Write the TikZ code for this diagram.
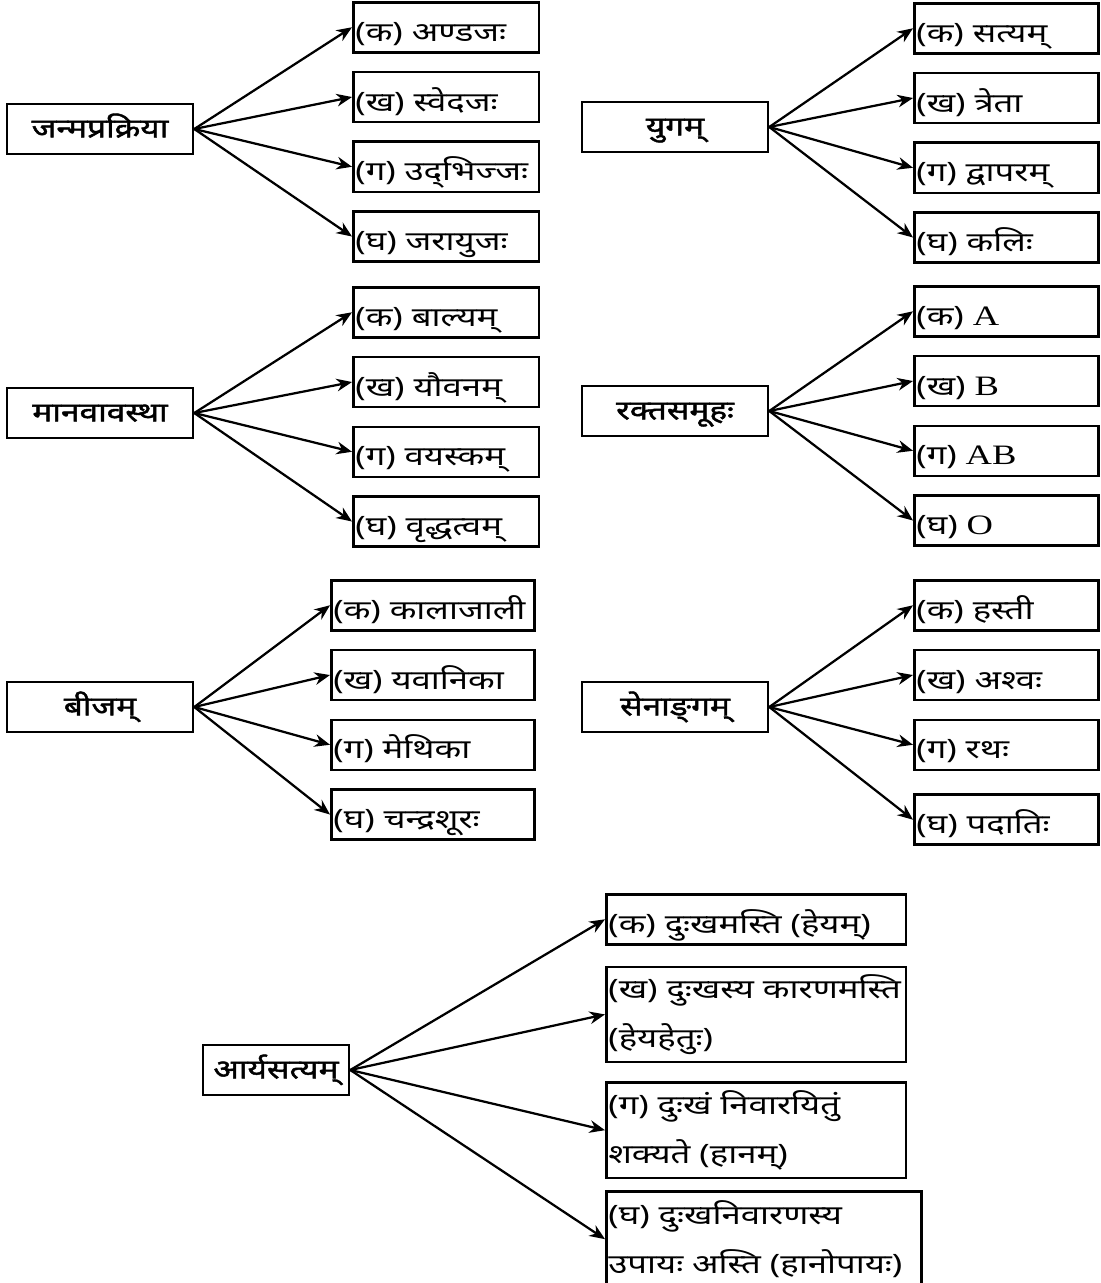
\documentclass[tikz,border=0pt]{standalone}
\usepackage{fontspec}
\setmainfont{Noto Sans}[Script=Devanagari, FakeStretch=1.3]
\newfontfamily\rootfont{Noto Sans}[Script=Devanagari, FakeStretch=1.25, FakeBold=1.6]
\newfontfamily\latn{Liberation Serif}[FakeStretch=1.3]
\usetikzlibrary{arrows.meta,positioning}

\begin{document}
\begin{tikzpicture}[
    x=0.025cm, y=-0.025cm,
    font=\fontsize{19}{23}\selectfont,
    root/.style={draw, line width=1.8pt, align=center, inner sep=1pt,
                 minimum width=4.65cm, minimum height=1.25cm,
                 text height=0.6cm, text depth=0.18cm,
                 font=\rootfont\fontsize{19}{23}\selectfont},
    leaf/.style={draw, line width=1.8pt, align=left, inner xsep=1.5pt,
                 text width=#1, minimum height=1.25cm,
                 text height=0.82cm, text depth=0.12cm},
    leaf/.default=4.54cm,
    tall/.style={leaf=#1, minimum height=2.38cm, text height={}, text depth={},
                 font=\fontsize{19}{35}\selectfont},
    arr/.style={-{Stealth[length=11pt, width=9pt]}, line width=1.6pt}
  ]
  \useasboundingbox (0,0) rectangle (1100,1283);

  % janma-prakriya
  \node[root] (janma) at (100,129) {जन्मप्रक्रिया};
  \node[leaf, anchor=north west] (janma1) at (352,1) {(क) अण्डजः};
  \node[leaf, below=0.43cm of janma1] (janma2) {(ख) स्वेदजः};
  \node[leaf, below=0.43cm of janma2] (janma3) {(ग) उद्‌भिज्जः};
  \node[leaf, below=0.43cm of janma3] (janma4) {(घ) जरायुजः};
  \draw[arr] (janma.east) -- (janma1.west);
  \draw[arr] (janma.east) -- (janma2.west);
  \draw[arr] (janma.east) -- (janma3.west);
  \draw[arr] (janma.east) -- (janma4.west);

  % yuga
  \node[root] (yuga) at (675,127) {युगम्};
  \node[leaf=4.5cm, anchor=north west] (yuga1) at (913,2) {(क) सत्यम्};
  \node[leaf=4.5cm, below=0.43cm of yuga1] (yuga2) {(ख) त्रेता};
  \node[leaf=4.5cm, below=0.43cm of yuga2] (yuga3) {(ग) द्वापरम्};
  \node[leaf=4.5cm, below=0.43cm of yuga3] (yuga4) {(घ) कलिः};
  \draw[arr] (yuga.east) -- (yuga1.west);
  \draw[arr] (yuga.east) -- (yuga2.west);
  \draw[arr] (yuga.east) -- (yuga3.west);
  \draw[arr] (yuga.east) -- (yuga4.west);

  % manava-avastha
  \node[root] (avastha) at (100,413) {मानवावस्था};
  \node[leaf, anchor=north west] (avastha1) at (352,286) {(क) बाल्यम्};
  \node[leaf, below=0.43cm of avastha1] (avastha2) {(ख) यौवनम्};
  \node[leaf, below=0.43cm of avastha2] (avastha3) {(ग) वयस्कम्};
  \node[leaf, below=0.43cm of avastha3] (avastha4) {(घ) वृद्धत्वम्};
  \draw[arr] (avastha.east) -- (avastha1.west);
  \draw[arr] (avastha.east) -- (avastha2.west);
  \draw[arr] (avastha.east) -- (avastha3.west);
  \draw[arr] (avastha.east) -- (avastha4.west);

  % rakta-samuha
  \node[root] (rakta) at (675,411) {रक्तसमूहः};
  \node[leaf=4.5cm, anchor=north west] (rakta1) at (913,285) {(क) {\latn\fontsize{20}{23}\selectfont A}};
  \node[leaf=4.5cm, below=0.43cm of rakta1] (rakta2) {(ख) {\latn\fontsize{20}{23}\selectfont B}};
  \node[leaf=4.5cm, below=0.43cm of rakta2] (rakta3) {(ग) {\latn\fontsize{20}{23}\selectfont AB}};
  \node[leaf=4.5cm, below=0.43cm of rakta3] (rakta4) {(घ) {\latn\fontsize{20}{23}\selectfont O}};
  \draw[arr] (rakta.east) -- (rakta1.west);
  \draw[arr] (rakta.east) -- (rakta2.west);
  \draw[arr] (rakta.east) -- (rakta3.west);
  \draw[arr] (rakta.east) -- (rakta4.west);

  % bija
  \node[root] (bija) at (100,707) {बीजम्};
  \node[leaf=4.97cm, anchor=north west] (bija1) at (330,579) {(क) कालाजाली};
  \node[leaf=4.97cm, below=0.43cm of bija1] (bija2) {(ख) यवानिका};
  \node[leaf=4.97cm, below=0.43cm of bija2] (bija3) {(ग) मेथिका};
  \node[leaf=4.97cm, below=0.43cm of bija3] (bija4) {(घ) चन्द्रशूरः};
  \draw[arr] (bija.east) -- (bija1.west);
  \draw[arr] (bija.east) -- (bija2.west);
  \draw[arr] (bija.east) -- (bija3.west);
  \draw[arr] (bija.east) -- (bija4.west);

  % sena-anga
  \node[root] (sena) at (675,707) {सेनाङ्‌गम्};
  \node[leaf=4.5cm, anchor=north west] (sena1) at (913,579) {(क) हस्ती};
  \node[leaf=4.5cm, below=0.43cm of sena1] (sena2) {(ख) अश्वः};
  \node[leaf=4.5cm, below=0.43cm of sena2] (sena3) {(ग) रथः};
  \node[leaf=4.5cm, below=0.56cm of sena3] (sena4) {(घ) पदातिः};
  \draw[arr] (sena.east) -- (sena1.west);
  \draw[arr] (sena.east) -- (sena2.west);
  \draw[arr] (sena.east) -- (sena3.west);
  \draw[arr] (sena.east) -- (sena4.west);

  % arya-satya
  \node[root, minimum width=3.65cm] (satya) at (276,1070) {आर्यसत्यम्};
  \node[leaf=7.39cm, anchor=north west] (satya1) at (605,893) {(क) दुःखमस्ति (हेयम्)};
  \node[tall=7.39cm, below=0.5cm of satya1] (satya2) {(ख) दुःखस्य कारणमस्ति\\(हेयहेतुः)};
  \node[tall=7.39cm, below=0.45cm of satya2] (satya3) {(ग) दुःखं निवारयितुं\\शक्यते (हानम्)};
  \node[tall=7.77cm, below=0.28cm of satya3.south west, anchor=north west] (satya4) {(घ) दुःखनिवारणस्य\\उपायः अस्ति (हानोपायः)};
  \draw[arr] (satya.east) -- (satya1.west);
  \draw[arr] (satya.east) -- (satya2.west);
  \draw[arr] (satya.east) -- (satya3.west);
  \draw[arr] (satya.east) -- (satya4.west);
\end{tikzpicture}
\end{document}
